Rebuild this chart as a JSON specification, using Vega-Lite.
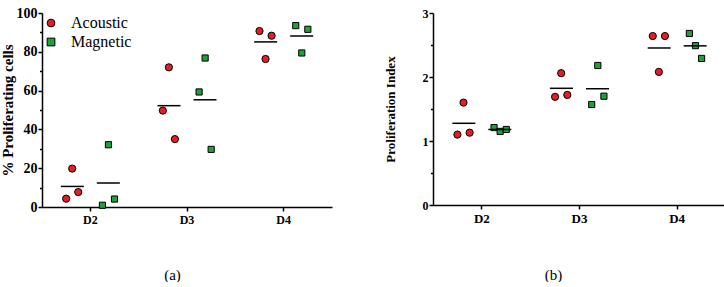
{
  "$schema": "https://vega.github.io/schema/vega-lite/v6.json",
  "background": "white",
  "padding": {"top": 6, "left": 0, "right": 0, "bottom": 0},
  "config": {
    "view": {"stroke": null},
    "font": "Liberation Serif",
    "axis": {
      "domainColor": "black", "domainWidth": 1.5, "tickColor": "black", "tickWidth": 1.5,
      "labelFont": "Liberation Serif", "labelFontWeight": "bold", "labelColor": "black",
      "titleFont": "Liberation Serif", "titleFontWeight": "bold", "titleColor": "black", "grid": false,
      "labelOverlap": false
    }
  },
  "datasets": {
    "pct": [
      {"day": "D2", "group": "Acoustic", "rep": "A1", "value": 4.3},
      {"day": "D2", "group": "Acoustic", "rep": "A2", "value": 19.8},
      {"day": "D2", "group": "Acoustic", "rep": "A3", "value": 7.7},
      {"day": "D2", "group": "Magnetic", "rep": "M1", "value": 0.9},
      {"day": "D2", "group": "Magnetic", "rep": "M2", "value": 32.1},
      {"day": "D2", "group": "Magnetic", "rep": "M3", "value": 4.1},
      {"day": "D3", "group": "Acoustic", "rep": "A1", "value": 49.7},
      {"day": "D3", "group": "Acoustic", "rep": "A2", "value": 72.0},
      {"day": "D3", "group": "Acoustic", "rep": "A3", "value": 35.0},
      {"day": "D3", "group": "Magnetic", "rep": "M1", "value": 59.3},
      {"day": "D3", "group": "Magnetic", "rep": "M2", "value": 76.8},
      {"day": "D3", "group": "Magnetic", "rep": "M3", "value": 29.7},
      {"day": "D4", "group": "Acoustic", "rep": "A1", "value": 90.7},
      {"day": "D4", "group": "Acoustic", "rep": "A2", "value": 76.3},
      {"day": "D4", "group": "Acoustic", "rep": "A3", "value": 88.3},
      {"day": "D4", "group": "Magnetic", "rep": "M1", "value": 93.5},
      {"day": "D4", "group": "Magnetic", "rep": "M2", "value": 79.4},
      {"day": "D4", "group": "Magnetic", "rep": "M3", "value": 91.6}
    ],
    "pi": [
      {"day": "D2", "group": "Acoustic", "rep": "A1", "value": 1.10},
      {"day": "D2", "group": "Acoustic", "rep": "A2", "value": 1.60},
      {"day": "D2", "group": "Acoustic", "rep": "A3", "value": 1.13},
      {"day": "D2", "group": "Magnetic", "rep": "M1", "value": 1.21},
      {"day": "D2", "group": "Magnetic", "rep": "M2", "value": 1.15},
      {"day": "D2", "group": "Magnetic", "rep": "M3", "value": 1.18},
      {"day": "D3", "group": "Acoustic", "rep": "A1", "value": 1.69},
      {"day": "D3", "group": "Acoustic", "rep": "A2", "value": 2.06},
      {"day": "D3", "group": "Acoustic", "rep": "A3", "value": 1.72},
      {"day": "D3", "group": "Magnetic", "rep": "M1", "value": 1.57},
      {"day": "D3", "group": "Magnetic", "rep": "M2", "value": 2.18},
      {"day": "D3", "group": "Magnetic", "rep": "M3", "value": 1.70},
      {"day": "D4", "group": "Acoustic", "rep": "A1", "value": 2.64},
      {"day": "D4", "group": "Acoustic", "rep": "A2", "value": 2.08},
      {"day": "D4", "group": "Acoustic", "rep": "A3", "value": 2.64},
      {"day": "D4", "group": "Magnetic", "rep": "M1", "value": 2.68},
      {"day": "D4", "group": "Magnetic", "rep": "M2", "value": 2.49},
      {"day": "D4", "group": "Magnetic", "rep": "M3", "value": 2.29}
    ]
  },
  "resolve": {"scale": {"color": "independent", "shape": "independent"}},
  "spacing": 52,
  "hconcat": [
    {
      "width": 290, "height": 194,
      "data": {"name": "pct"},
      "resolve": {"scale": {"xOffset": "independent"}},
      "layer": [
        {
          "mark": {"type": "point", "filled": true, "stroke": "black", "strokeWidth": 1, "opacity": 1},
          "encoding": {
            "x": {"field": "day", "type": "nominal", "scale": {"paddingInner": 0, "paddingOuter": 0},
              "axis": {"title": "(a)", "labelAngle": 0, "labelFont": "Liberation Serif", "labelFontWeight": "bold", "labelFontSize": 12,
                "tickSize": 4, "labelPadding": 3, "bandPosition": 0.5,
                "titleFont": "Liberation Serif", "titleFontSize": 15, "titleFontWeight": "normal", "titlePadding": 42, "titleX": 130}},
            "xOffset": {"field": "rep", "type": "nominal", "scale": {"type": "point", "padding": 1,
              "domain": ["p1", "p2", "p3", "A1", "A2", "A3", "g1", "g2", "g3", "M1", "M2", "M3", "p4", "p5", "p6"]}},
            "y": {"field": "value", "type": "quantitative", "scale": {"domain": [0, 100], "nice": false},
              "axis": {"title": "% Proliferating cells", "titleFont": "Liberation Serif", "titleFontWeight": "bold", "titleFontSize": 15,
                "labelFont": "Liberation Serif", "labelFontWeight": "bold", "labelFontSize": 14, "labelPadding": 1,
                "labelOverlap": false,
                "values": [0, 10, 20, 30, 40, 50, 60, 70, 80, 90, 100],
                "labelExpr": "datum.value % 20 === 0 ? format(datum.value, 'd') : ''",
                "tickSize": {"condition": {"test": "datum.value % 20 === 0", "value": 4}, "value": 2.5},
                "titlePadding": 1}},
            "color": {"field": "group", "type": "nominal",
              "scale": {"domain": ["Acoustic", "Magnetic"], "range": ["#e41e26", "#20a03a"]},
              "legend": {"title": null, "orient": "none", "legendX": 1, "legendY": 2, "padding": 0,
                "labelFont": "Liberation Serif", "labelFontSize": 16, "labelColor": "black", "labelOffset": 12,
                "symbolSize": 60, "symbolStrokeColor": "black", "symbolStrokeWidth": 1, "rowPadding": 3}},
            "shape": {"field": "group", "type": "nominal",
              "scale": {"domain": ["Acoustic", "Magnetic"], "range": ["circle", "square"]}},
            "size": {"field": "group", "type": "nominal",
              "scale": {"domain": ["Acoustic", "Magnetic"], "range": [52, 38]}, "legend": null}
          }
        },
        {
          "mark": {"type": "tick", "orient": "horizontal", "color": "black", "size": 23, "thickness": 1.5},
          "encoding": {
            "x": {"field": "day", "type": "nominal"},
            "xOffset": {"field": "group", "type": "nominal", "scale": {"type": "point", "padding": 0.843,
              "domain": ["Acoustic", "Magnetic"]}},
            "y": {"aggregate": "mean", "field": "value", "type": "quantitative",
              "axis": {"title": "% Proliferating cells", "titleFont": "Liberation Serif", "titleFontWeight": "bold", "titleFontSize": 15,
                "labelFont": "Liberation Serif", "labelFontWeight": "bold", "labelFontSize": 14, "labelPadding": 1,
                "labelOverlap": false,
                "values": [0, 10, 20, 30, 40, 50, 60, 70, 80, 90, 100],
                "labelExpr": "datum.value % 20 === 0 ? format(datum.value, 'd') : ''",
                "tickSize": {"condition": {"test": "datum.value % 20 === 0", "value": 4}, "value": 2.5},
                "titlePadding": 1}}
          }
        }
      ]
    },
    {
      "width": 293, "height": 192,
      "data": {"name": "pi"},
      "resolve": {"scale": {"xOffset": "independent"}},
      "layer": [
        {
          "mark": {"type": "point", "filled": true, "stroke": "black", "strokeWidth": 1, "opacity": 1},
          "encoding": {
            "x": {"field": "day", "type": "nominal", "scale": {"paddingInner": 0, "paddingOuter": 0},
              "axis": {"title": "(b)", "labelAngle": 0, "labelFont": "Liberation Serif", "labelFontWeight": "bold", "labelFontSize": 13,
                "tickSize": 4, "labelPadding": 3, "bandPosition": 0.5,
                "titleFont": "Liberation Serif", "titleFontSize": 15, "titleFontWeight": "normal", "titlePadding": 42, "titleX": 120}},
            "xOffset": {"field": "rep", "type": "nominal", "scale": {"type": "point", "padding": 1,
              "domain": ["p1", "p2", "p3", "A1", "A2", "A3", "g1", "g2", "g3", "M1", "M2", "M3", "p4", "p5", "p6"]}},
            "y": {"field": "value", "type": "quantitative", "scale": {"domain": [0, 3], "nice": false},
              "axis": {"title": "Proliferation Index", "titleFont": "Liberation Serif", "titleFontWeight": "bold", "titleFontSize": 13,
                "labelFont": "Liberation Serif", "labelFontWeight": "bold", "labelFontSize": 12, "labelPadding": 1,
                "labelOverlap": false,
                "values": [0, 0.5, 1, 1.5, 2, 2.5, 3],
                "labelExpr": "datum.value % 1 === 0 ? format(datum.value, 'd') : ''",
                "tickSize": {"condition": {"test": "datum.value % 1 === 0", "value": 4}, "value": 2.5},
                "titlePadding": 25}},
            "color": {"field": "group", "type": "nominal",
              "scale": {"domain": ["Acoustic", "Magnetic"], "range": ["#e41e26", "#20a03a"]}, "legend": null},
            "shape": {"field": "group", "type": "nominal",
              "scale": {"domain": ["Acoustic", "Magnetic"], "range": ["circle", "square"]}, "legend": null},
            "size": {"field": "group", "type": "nominal",
              "scale": {"domain": ["Acoustic", "Magnetic"], "range": [52, 38]}, "legend": null}
          }
        },
        {
          "mark": {"type": "tick", "orient": "horizontal", "color": "black", "size": 23, "thickness": 1.5},
          "encoding": {
            "x": {"field": "day", "type": "nominal"},
            "xOffset": {"field": "group", "type": "nominal", "scale": {"type": "point", "padding": 0.857,
              "domain": ["Acoustic", "Magnetic"]}},
            "y": {"aggregate": "mean", "field": "value", "type": "quantitative",
              "axis": {"title": "Proliferation Index", "titleFont": "Liberation Serif", "titleFontWeight": "bold", "titleFontSize": 13,
                "labelFont": "Liberation Serif", "labelFontWeight": "bold", "labelFontSize": 12, "labelPadding": 1,
                "labelOverlap": false,
                "values": [0, 0.5, 1, 1.5, 2, 2.5, 3],
                "labelExpr": "datum.value % 1 === 0 ? format(datum.value, 'd') : ''",
                "tickSize": {"condition": {"test": "datum.value % 1 === 0", "value": 4}, "value": 2.5},
                "titlePadding": 25}}
          }
        }
      ]
    }
  ]
}
